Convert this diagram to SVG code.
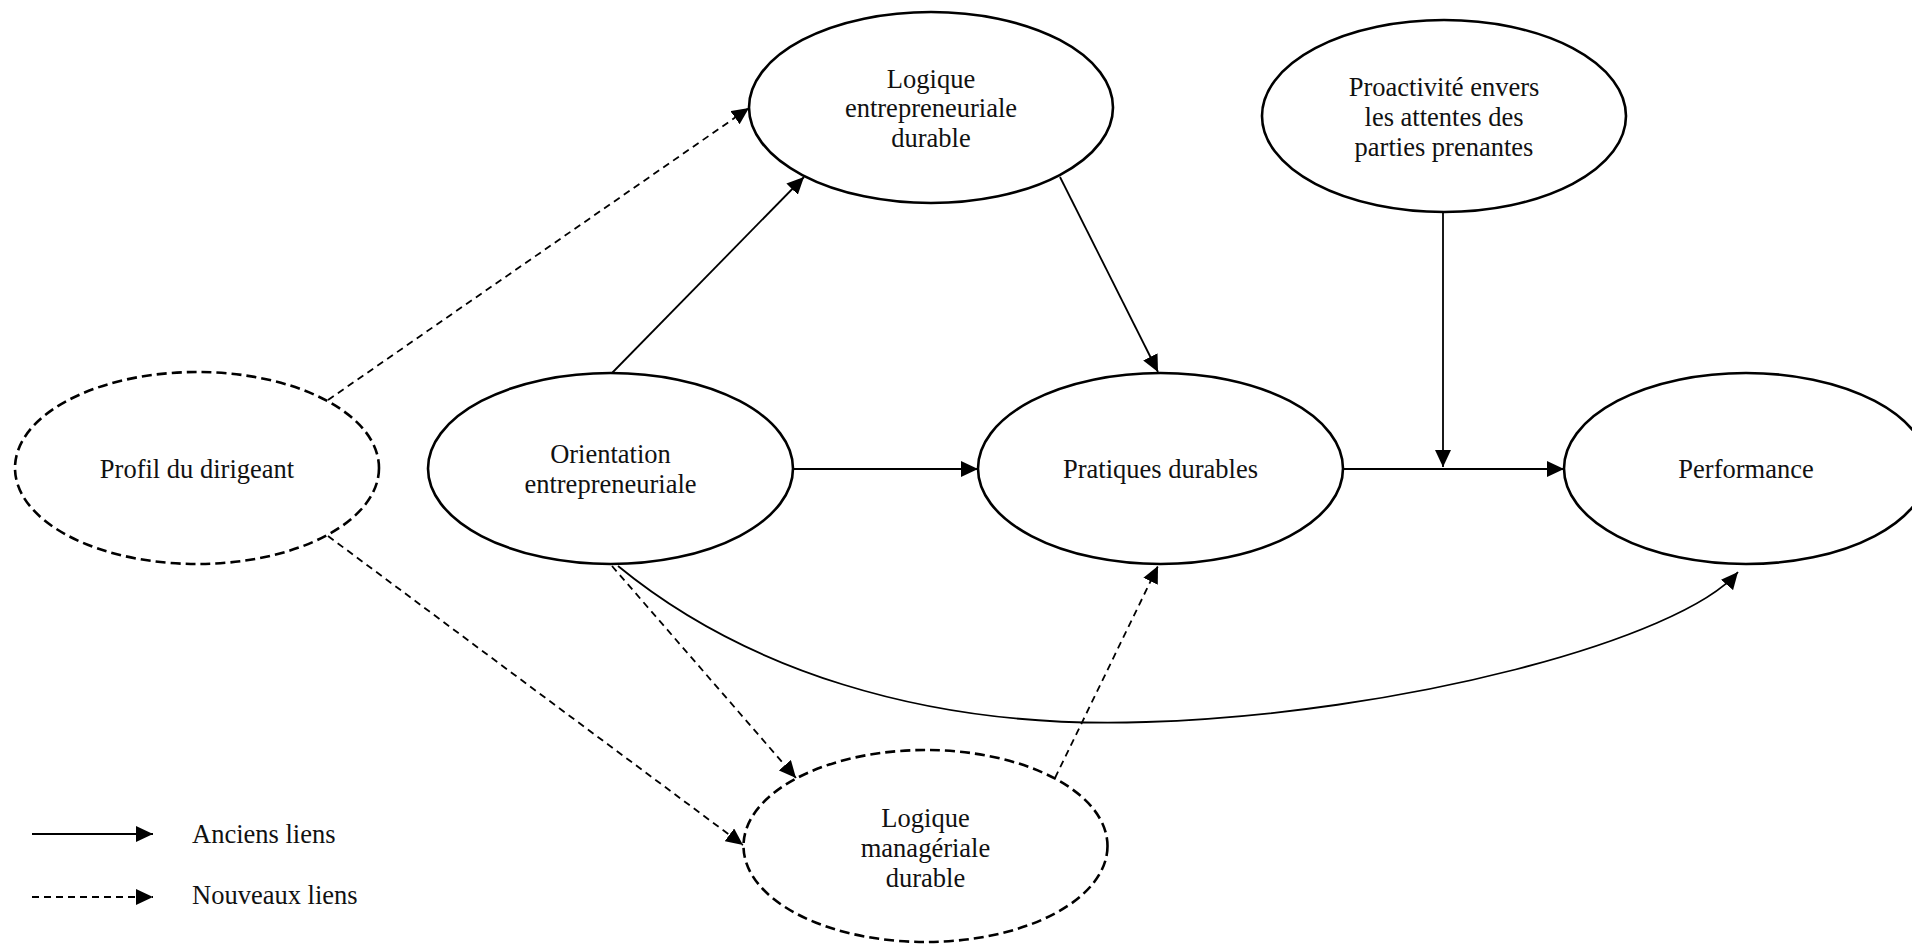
<svg xmlns="http://www.w3.org/2000/svg" width="1912" height="944" viewBox="0 0 1912 944">
<style>
.n{fill:#fff;stroke:#000;stroke-width:2.6}
.d{stroke-dasharray:10 5}
.t{font-family:"Liberation Serif","Times New Roman",serif;font-size:26.5px;fill:#111;text-anchor:middle}
.lt{font-family:"Liberation Serif","Times New Roman",serif;font-size:26.5px;fill:#111}
.c{fill:none;stroke:#000;stroke-width:1.8;marker-end:url(#ah)}
.cd{stroke-dasharray:7 5}
</style>
<defs>
<marker id="ah" viewBox="0 0 17 16" refX="17" refY="8" markerWidth="17" markerHeight="16" markerUnits="userSpaceOnUse" orient="auto">
<path d="M0,0 L17,8 L0,16 z" fill="#000"/>
</marker>
</defs>
<rect width="1912" height="944" fill="#fff"/>
<g id="connectors">
<line class="c" x1="612" y1="373" x2="804" y2="177"/>
<line class="c" x1="1060" y1="177" x2="1158" y2="372"/>
<line class="c" x1="793" y1="469" x2="978" y2="469"/>
<line class="c" x1="1343" y1="469" x2="1564" y2="469"/>
<line class="c" x1="1443" y1="212" x2="1443" y2="467"/>
<path class="c" d="M618,566 C740,666 920,730 1146,722 C1400,714 1680,640 1738,572"/>
<line class="c cd" x1="612" y1="566" x2="796" y2="778"/>
<line class="c cd" x1="328" y1="400" x2="749" y2="108"/>
<line class="c cd" x1="328" y1="536" x2="743" y2="845"/>
<line class="c cd" x1="1055" y1="778" x2="1158" y2="566"/>
</g>
<g id="profil">
<ellipse class="n d" cx="197" cy="468" rx="182" ry="96"/>
<text class="t" x="197" y="478">Profil du dirigeant</text>
</g>
<g id="orientation">
<ellipse class="n" cx="610.5" cy="468.5" rx="182.5" ry="95.5"/>
<text class="t" x="610.5" y="463">Orientation</text>
<text class="t" x="610.5" y="493">entrepreneuriale</text>
</g>
<g id="logique-entrepreneuriale">
<ellipse class="n" cx="931" cy="107.5" rx="182" ry="95.5"/>
<text class="t" x="931" y="88">Logique</text>
<text class="t" x="931" y="117">entrepreneuriale</text>
<text class="t" x="931" y="147">durable</text>
</g>
<g id="proactivite">
<ellipse class="n" cx="1444" cy="116" rx="182" ry="96"/>
<text class="t" x="1444" y="96">Proactivité envers</text>
<text class="t" x="1444" y="126">les attentes des</text>
<text class="t" x="1444" y="156">parties prenantes</text>
</g>
<g id="pratiques">
<ellipse class="n" cx="1160.5" cy="468.5" rx="182.5" ry="95.5"/>
<text class="t" x="1160.5" y="478">Pratiques durables</text>
</g>
<g id="performance">
<ellipse class="n" cx="1746" cy="468.5" rx="182" ry="95.5"/>
<text class="t" x="1746" y="478">Performance</text>
</g>
<g id="logique-manageriale">
<ellipse class="n d" cx="925.5" cy="846" rx="182" ry="96"/>
<text class="t" x="925.5" y="827">Logique</text>
<text class="t" x="925.5" y="857">managériale</text>
<text class="t" x="925.5" y="887">durable</text>
</g>
<g id="legend">
<line class="c" x1="32" y1="834" x2="153" y2="834"/>
<line class="c cd" x1="32" y1="897" x2="153" y2="897"/>
<text class="lt" x="192" y="843">Anciens liens</text>
<text class="lt" x="192" y="904">Nouveaux liens</text>
</g>
</svg>
